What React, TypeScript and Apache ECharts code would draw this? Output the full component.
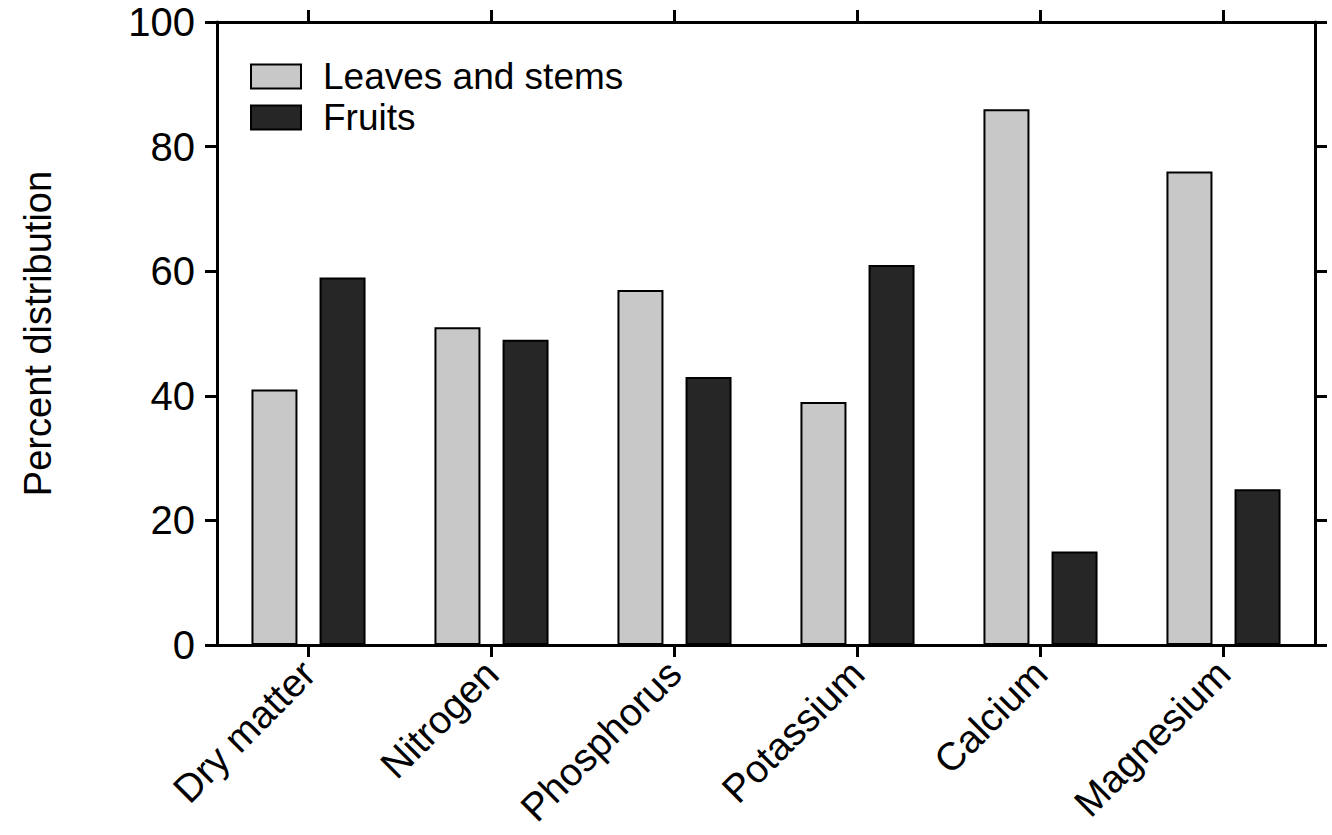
import React, { useEffect, useRef } from "react";
import * as echarts from "echarts";

const categories = ["Dry matter", "Nitrogen", "Phosphorus", "Potassium", "Calcium", "Magnesium"];
const leavesAndStems = [41, 51, 57, 39, 86, 76];
const fruits = [59, 49, 43, 61, 15, 25];
const seriesNames = ["Leaves and stems", "Fruits"];
const yAxisName = "Percent distribution";

const FONT = "'Liberation Sans', Arial, Helvetica, sans-serif";

export default function App() {
  const ref = useRef<HTMLDivElement>(null);
  useEffect(() => {
    document.body.style.margin = "0";
    document.body.style.overflow = "hidden";
    if (!ref.current) return;
    const chart = echarts.init(ref.current, null, { renderer: "svg" });
    const axisLine = { show: true, onZero: false, lineStyle: { color: "#000", width: 3 } };
    const axisTick = { show: true, length: 12, inside: false, lineStyle: { color: "#000", width: 3 } };
    const legendText = { fontFamily: FONT, fontSize: 37, lineHeight: 36, color: "#000", padding: [0, 0, 0, 17] };
    chart.setOption({
      animation: false,
      backgroundColor: "#fff",
      grid: { left: 217, right: 17, top: 22, bottom: 190, containLabel: false, outerBoundsMode: "none" },
      legend: [
        {
          orient: "vertical",
          left: 245,
          top: 53,
          itemWidth: 50,
          itemHeight: 24,
          icon: "rect",
          data: [seriesNames[0]],
          textStyle: legendText,
        },
        {
          orient: "vertical",
          left: 245,
          top: 94,
          itemWidth: 50,
          itemHeight: 24,
          icon: "rect",
          data: [seriesNames[1]],
          textStyle: legendText,
        },
      ],
      xAxis: [
        {
          type: "category",
          data: categories,
          position: "bottom",
          axisLine,
          axisTick: { ...axisTick, alignWithLabel: true },
          axisLabel: {
            fontFamily: FONT,
            fontSize: 39,
            color: "#000",
            rotate: 45,
            margin: 22,
            interval: 0,
          },
          splitLine: { show: false },
        },
        {
          type: "category",
          data: categories,
          position: "top",
          axisLine,
          axisTick: { ...axisTick, alignWithLabel: true },
          axisLabel: { show: false },
          splitLine: { show: false },
        },
      ],
      yAxis: [
        {
          type: "value",
          min: 0,
          max: 100,
          interval: 20,
          position: "left",
          name: yAxisName,
          nameLocation: "middle",
          nameRotate: 90,
          nameGap: 160,
          nameTextStyle: { fontFamily: FONT, fontSize: 38, color: "#000" },
          axisLine,
          axisTick,
          axisLabel: { fontFamily: FONT, fontSize: 40, color: "#000", margin: 22 },
          splitLine: { show: false },
        },
        {
          type: "value",
          min: 0,
          max: 100,
          interval: 20,
          position: "right",
          axisLine,
          axisTick,
          axisLabel: { show: false },
          splitLine: { show: false },
        },
      ],
      series: [
        {
          name: seriesNames[0],
          type: "bar",
          data: leavesAndStems,
          barWidth: 46,
          barGap: "48%",
          itemStyle: { color: "#c8c8c8", borderColor: "#000", borderWidth: 2 },
        },
        {
          name: seriesNames[1],
          type: "bar",
          data: fruits,
          barWidth: 46,
          barGap: "48%",
          itemStyle: { color: "#262626", borderColor: "#000", borderWidth: 2 },
        },
      ],
    });
    return () => chart.dispose();
  }, []);
  return <div ref={ref} style={{ width: 1332, height: 835 }} />;
}
